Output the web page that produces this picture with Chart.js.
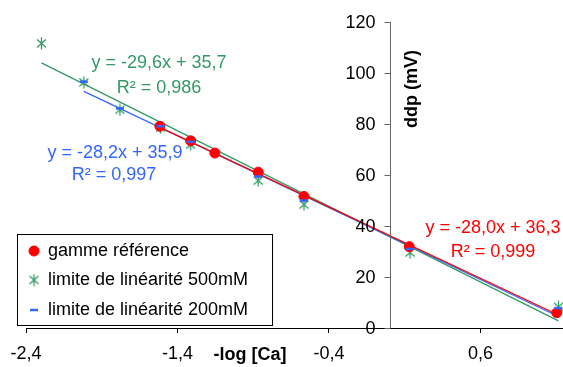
<!DOCTYPE html>
<html>
<head>
<meta charset="utf-8">
<script src="https://cdn.jsdelivr.net/npm/chart.js@4"></script>
<style>
  html, body { margin: 0; padding: 0; background: #fff; }
  #wrap { width: 563px; height: 367px; }
</style>
</head>
<body>
<div id="wrap"><canvas id="chart" width="563" height="367"></canvas></div>
<script>
// données
const xTicks = [-2.4, -1.4, -0.4, 0.6];

const refX = [-1.516, -1.313, -1.153, -0.867, -0.565, 0.130, 1.104];
const refY = [79.1, 73.4, 68.6, 61.1, 51.6, 31.9, 6.0];

const lim500X = [-2.298, -2.018, -1.780, -1.512, -1.313, -0.867, -0.565, 0.135, 1.115];
const lim500Y = [111.6, 96.3, 85.6, 78.6, 71.9, 57.8, 48.4, 29.6, 8.3];

const lim200X = [-2.018, -1.780, -1.512, -1.313, -0.867, -0.565, 0.135, 1.115];
const lim200Y = [96.6, 86.1, 79.1, 73.0, 59.4, 50.0, 31.0, 7.8];

// courbes de tendance (extrémités)
const trendRefX = [-1.516, 1.104];
const trendRefY = [78.7, 5.4];
const trend500X = [-2.298, 1.115];
const trend500Y = [104.0, 2.8];
const trend200X = [-2.018, 1.115];
const trend200Y = [92.8, 4.5];

const labels = ['gamme référence', 'limite de linéarité 500mM', 'limite de linéarité 200mM'];
const equations = [
    ['y = -29,6x + 35,7', 'R² = 0,986'],
    ['y = -28,2x + 35,9', 'R² = 0,997'],
    ['y = -28,0x + 36,3', 'R² = 0,999']
];

const RED = '#ff0000';
const GREEN = '#339966';
const BLUE = '#3366ff';
const FONT = '"Liberation Sans", Arial, sans-serif';

const pts = (xs, ys) => xs.map((x, i) => ({ x: x, y: ys[i] }));

// marqueur astérisque (style Excel)
function asterisk(color) {
    const c = document.createElement('canvas');
    c.width = 13; c.height = 13;
    const g = c.getContext('2d');
    g.strokeStyle = color;
    g.lineWidth = 1.3;
    g.beginPath();
    g.moveTo(6.5, 0.5); g.lineTo(6.5, 12.5);
    g.moveTo(2, 2.5); g.lineTo(11, 10.5);
    g.moveTo(11, 2.5); g.lineTo(2, 10.5);
    g.stroke();
    return c;
}
const starImg = asterisk(GREEN);

// axe vertical placé en x = 0 : graduations et libellés à gauche
const yAxisLeft = {
    id: 'yAxisLeft',
    afterDraw(chart) {
        const y = chart.scales.y, x = chart.scales.x;
        const ctx = chart.ctx;
        const px = Math.round(x.getPixelForValue(0)) + 0.5;
        ctx.save();
        ctx.strokeStyle = '#666';
        ctx.lineWidth = 1;
        ctx.beginPath();
        ctx.moveTo(px, y.getPixelForValue(y.max));
        ctx.lineTo(px, y.getPixelForValue(y.min));
        y.ticks.forEach(t => {
            const py = Math.round(y.getPixelForValue(t.value)) + 0.5;
            ctx.moveTo(px - 6, py);
            ctx.lineTo(px, py);
        });
        ctx.stroke();
        ctx.fillStyle = '#000';
        ctx.font = '18px ' + FONT;
        ctx.textAlign = 'right';
        ctx.textBaseline = 'middle';
        y.ticks.forEach(t => {
            ctx.fillText(String(t.value), px - 15, y.getPixelForValue(t.value) + 1);
        });
        ctx.restore();
    }
};

// textes : équations, titres d'axes, légende
const textPlugin = {
    id: 'textes',
    afterDatasetsDraw(chart) {
        const ctx = chart.ctx;
        ctx.save();
        ctx.textBaseline = 'middle';
        ctx.textAlign = 'center';
        ctx.font = '18px ' + FONT;

        ctx.fillStyle = GREEN;
        ctx.fillText(equations[0][0], 159, 63);
        ctx.fillText(equations[0][1], 159, 88);
        ctx.fillStyle = BLUE;
        ctx.fillText(equations[1][0], 115, 153);
        ctx.fillText(equations[1][1], 114, 175);
        ctx.fillStyle = RED;
        ctx.fillText(equations[2][0], 493, 228);
        ctx.fillText(equations[2][1], 493, 252);

        // titres des axes
        ctx.fillStyle = '#000';
        ctx.font = 'bold 18px ' + FONT;
        ctx.fillText('-log [Ca]', 250, 355);
        ctx.save();
        ctx.translate(412, 89);
        ctx.rotate(-Math.PI / 2);
        ctx.fillText('ddp (mV)', 0, 0);
        ctx.restore();

        // légende
        ctx.fillStyle = '#fff';
        ctx.fillRect(17.5, 234.5, 255, 91);
        ctx.strokeStyle = '#000';
        ctx.lineWidth = 1;
        ctx.strokeRect(17.5, 234.5, 255, 91);
        ctx.textAlign = 'left';
        ctx.font = '18px ' + FONT;
        const rows = [251, 280, 310];
        [0, 1, 2].forEach(i => {
            const ds = chart.data.datasets[i];
            ctx.fillStyle = ds.backgroundColor;
            ctx.strokeStyle = ds.borderColor;
            ctx.lineWidth = ds.borderWidth;
            Chart.helpers.drawPoint(ctx, {
                pointStyle: ds.pointStyle, radius: ds.pointRadius,
                borderWidth: ds.borderWidth, rotation: 0
            }, 34, rows[i]);
            ctx.fillStyle = '#000';
            ctx.fillText(labels[i], 48, rows[i]);
        });
        ctx.restore();
    }
};

new Chart(document.getElementById('chart'), {
    type: 'scatter',
    data: {
        datasets: [
            { label: labels[0], data: pts(refX, refY), pointStyle: 'circle', pointRadius: 5,
              backgroundColor: RED, borderColor: RED, borderWidth: 1, order: 1 },
            { label: labels[1], data: pts(lim500X, lim500Y), pointStyle: starImg, pointRadius: 6,
              backgroundColor: GREEN, borderColor: GREEN, borderWidth: 1.3, order: 2 },
            { label: labels[2], data: pts(lim200X, lim200Y), pointStyle: 'line', pointRadius: 4,
              backgroundColor: BLUE, borderColor: BLUE, borderWidth: 2.5, order: 0 },
            { data: pts(trend500X, trend500Y), showLine: true, pointRadius: 0,
              borderColor: GREEN, borderWidth: 1.3, order: 5 },
            { data: pts(trend200X, trend200Y), showLine: true, pointRadius: 0,
              borderColor: BLUE, borderWidth: 1.3, order: 4 },
            { data: pts(trendRefX, trendRefY), showLine: true, pointRadius: 0,
              borderColor: RED, borderWidth: 1.3, order: 3 }
        ]
    },
    options: {
        responsive: false,
        animation: false,
        layout: { autoPadding: false, padding: { left: 26, top: 22, right: 0, bottom: 0 } },
        plugins: { legend: { display: false }, tooltip: { enabled: false } },
        scales: {
            x: {
                type: 'linear',
                min: -2.4,
                max: 1.145,
                afterBuildTicks: s => { s.ticks = xTicks.map(v => ({ value: v })); },
                afterFit: s => { s.height = 39; },
                ticks: {
                    color: '#000',
                    font: { size: 18, family: FONT },
                    padding: 10,
                    maxRotation: 0,
                    callback: v => v.toFixed(1).replace('.', ',')
                },
                grid: { drawOnChartArea: false, drawTicks: true, tickLength: 5, color: '#000' },
                border: { color: '#000', width: 1 }
            },
            y: {
                display: false,
                min: 0,
                max: 120,
                ticks: { stepSize: 20 }
            }
        }
    },
    plugins: [textPlugin, yAxisLeft]
});
</script>
</body>
</html>
